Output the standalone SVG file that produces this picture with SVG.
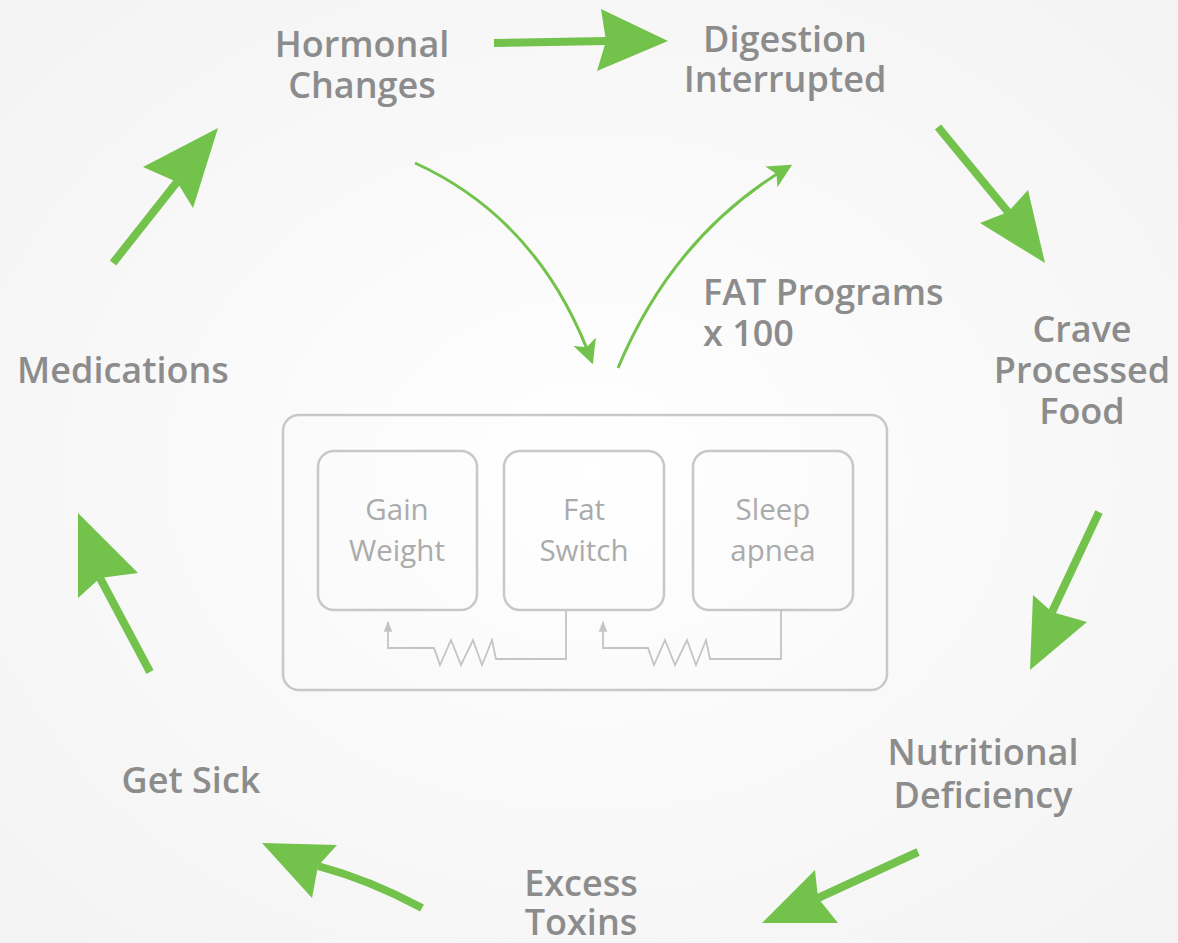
<svg xmlns="http://www.w3.org/2000/svg" width="1178" height="943" viewBox="0 0 1178 943">
<defs>
<radialGradient id="bg" cx="50%" cy="50%" r="70%">
<stop offset="0" stop-color="#ffffff"/>
<stop offset="1" stop-color="#f3f3f3"/>
</radialGradient>
<marker id="thinHead" viewBox="0 0 10 10" refX="9" refY="5" markerWidth="8" markerHeight="8" markerUnits="strokeWidth" orient="auto">
<path d="M0,0 L10,5 L0,10 L2.5,5 Z" fill="#72c24c"/>
</marker>
<marker id="tinyHead" viewBox="0 0 10 10" refX="9" refY="5" markerWidth="6" markerHeight="6" markerUnits="strokeWidth" orient="auto">
<path d="M0,1 L10,5 L0,9 Z" fill="#c4c4c4"/>
</marker>
</defs>
<style>
.lbl{font-family:"Open Sans","Liberation Sans",sans-serif;font-weight:600;font-size:36px;fill:#8c8c8c;}
.in{font-family:"Open Sans","Liberation Sans",sans-serif;font-weight:400;font-size:29.5px;fill:#ababab;}
.shaft{stroke:#72c24c;stroke-width:8;fill:none;}
.head{fill:#72c24c;}
.box{fill:none;stroke:#c8c8c8;stroke-width:2.5;}
.wire{fill:none;stroke:#c4c4c4;stroke-width:1.8;}
.thin{fill:none;stroke:#72c24c;stroke-width:3;}
</style>
<rect x="0" y="0" width="1178" height="943" fill="url(#bg)"/>

<g id="hormonal"><text class="lbl" text-anchor="middle" x="362" y="57">Hormonal</text><text class="lbl" text-anchor="middle" x="362" y="98">Changes</text></g>
<g id="digestion"><text class="lbl" text-anchor="middle" x="785" y="52">Digestion</text><text class="lbl" text-anchor="middle" x="785" y="92">Interrupted</text></g>
<g id="crave"><text class="lbl" text-anchor="middle" x="1082" y="342">Crave</text><text class="lbl" text-anchor="middle" x="1082" y="383">Processed</text><text class="lbl" text-anchor="middle" x="1082" y="424">Food</text></g>
<g id="nutritional"><text class="lbl" text-anchor="middle" x="983" y="765">Nutritional</text><text class="lbl" text-anchor="middle" x="983" y="808">Deficiency</text></g>
<g id="excess"><text class="lbl" text-anchor="middle" x="581" y="896">Excess</text><text class="lbl" text-anchor="middle" x="581" y="935">Toxins</text></g>
<g id="getsick"><text class="lbl" text-anchor="middle" x="191" y="793">Get Sick</text></g>
<g id="medications"><text class="lbl" text-anchor="middle" x="123" y="383">Medications</text></g>
<g id="fatprograms"><text class="lbl" x="703" y="305">FAT Programs</text><text class="lbl" x="703" y="346">x 100</text></g>

<g id="fatbox">
<rect class="box" x="283" y="415" width="604" height="275" rx="16"/>
<g id="gain"><rect class="box" x="318" y="451" width="159" height="159" rx="16"/><text class="in" text-anchor="middle" x="397" y="520">Gain</text><text class="in" text-anchor="middle" x="397" y="561">Weight</text></g>
<g id="switch"><rect class="box" x="504" y="451" width="160" height="159" rx="16"/><text class="in" text-anchor="middle" x="584" y="520">Fat</text><text class="in" text-anchor="middle" x="584" y="561">Switch</text></g>
<g id="sleep"><rect class="box" x="693" y="451" width="160" height="159" rx="16"/><text class="in" text-anchor="middle" x="773" y="520">Sleep</text><text class="in" text-anchor="middle" x="773" y="561">apnea</text></g>
<path class="wire" marker-end="url(#tinyHead)" d="M566,610 L566,659 L496,659 L492,640 L482,665 L473,640 L461,665 L451,640 L440,665 L434,648 L388,648 L388,622"/>
<path class="wire" marker-end="url(#tinyHead)" d="M781,610 L781,659 L710,659 L706,640 L696,665 L687,640 L675,665 L665,640 L654,665 L648,648 L603,648 L603,622"/>
</g>

<g id="connectors">
<line class="shaft" x1="494" y1="43" x2="606" y2="41"/>
<polygon class="head" points="668,41 601,9 606,41 597,71"/>
<line class="shaft" x1="938" y1="127" x2="1008" y2="212"/>
<polygon class="head" points="1045,263 980,223 1008,212 1028,190"/>
<line class="shaft" x1="1099" y1="512" x2="1052" y2="612"/>
<polygon class="head" points="1030,670 1033,595 1052,612 1087,622"/>
<line class="shaft" x1="918" y1="852" x2="818" y2="898"/>
<polygon class="head" points="762,923 815,870 818,898 838,923"/>
<path class="shaft" d="M422,908 Q370,880 318,866"/>
<polygon class="head" points="262,843 337,845 318,866 312,898"/>
<line class="shaft" x1="150" y1="672" x2="100" y2="578"/>
<polygon class="head" points="78,513 138,573 100,578 78,598"/>
<line class="shaft" x1="113" y1="263" x2="177" y2="182"/>
<polygon class="head" points="218,128 193,208 177,182 143,167"/>
<path class="thin" marker-end="url(#thinHead)" d="M415,163 Q540,220 592,362"/>
<path class="thin" marker-end="url(#thinHead)" d="M618,368 Q674,234 790,166"/>
</g>
</svg>
